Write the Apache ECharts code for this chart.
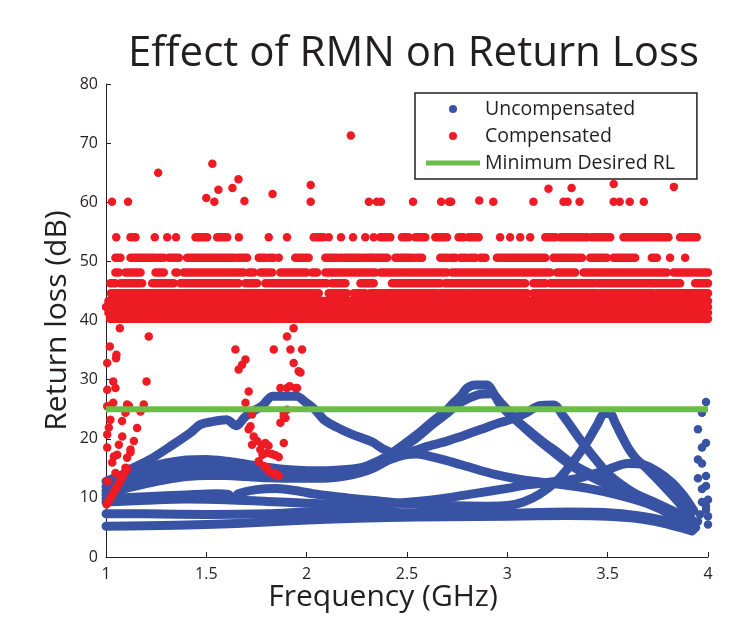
<!DOCTYPE html>
<html>
<head>
<meta charset="utf-8">
<title>Effect of RMN on Return Loss</title>
<script src="https://cdn.jsdelivr.net/npm/echarts@6/dist/echarts.min.js"></script>
<style>
  html, body { margin: 0; padding: 0; background: #fff; }
  #chart { width: 738px; height: 617px; }
</style>
</head>
<body>
<div id="chart"></div>
<script>
"use strict";

const BLUE = '#3953a4';
const RED = '#ed1c24';
const GREEN = '#6abd45';
const INK = '#231f20';
const FONT = "'Open Sans', 'Noto Sans', sans-serif";

// ---- Uncompensated (blue) traces [GHz, dB]
const uncompA = [[1.0,11.9],[1.06,13.3],[1.12,14.8],[1.22,16.5],[1.32,18.7],[1.42,21.0],[1.47,22.4],[1.53,22.9],[1.6,23.2],[1.65,22.2],[1.69,23.6],[1.74,24.8],[1.78,25.6],[1.83,27.2],[1.95,27.2],[1.99,26.3],[2.04,25.0],[2.09,23.1],[2.17,21.6],[2.23,20.7],[2.33,19.4],[2.38,18.3],[2.45,17.5],[2.52,17.8],[2.6,18.7],[2.7,19.6],[2.77,20.4],[2.87,21.6],[2.96,22.7],[3.03,23.4],[3.1,24.5],[3.16,25.6],[3.23,25.7],[3.28,23.8],[3.36,20.0],[3.44,16.5],[3.51,13.8],[3.6,11.5],[3.7,9.5],[3.8,7.4],[3.9,5.3]];
const uncompB = [[1.0,11.2],[1.1,12.6],[1.2,13.7],[1.3,14.5],[1.4,15.0],[1.5,15.2],[1.6,15.1],[1.7,14.8],[1.8,14.4],[1.9,14.1],[2.0,13.9],[2.1,14.0],[2.2,14.4],[2.3,15.4],[2.4,17.0],[2.47,18.7],[2.55,20.7],[2.63,23.0],[2.69,24.6],[2.73,26.0],[2.77,27.3],[2.8,28.6],[2.84,29.1],[2.9,29.1],[2.93,27.8],[2.96,26.0],[3.02,23.8],[3.1,21.6],[3.18,19.4],[3.25,17.7],[3.33,15.6],[3.45,13.5],[3.6,11.2],[3.75,9.0],[3.9,6.6]];
const uncompC = [[1.0,10.6],[1.1,11.6],[1.2,12.4],[1.3,13.1],[1.4,13.6],[1.5,13.8],[1.6,13.8],[1.7,13.6],[1.8,13.4],[2.0,13.3],[2.15,13.5],[2.3,14.6],[2.4,16.3],[2.47,18.2],[2.55,20.2],[2.63,22.5],[2.7,24.3],[2.76,26.0],[2.85,27.4],[2.92,27.6],[2.97,26.0],[3.05,23.0],[3.13,20.5],[3.22,18.0],[3.33,15.2],[3.5,12.2],[3.7,9.2],[3.88,6.5]];
const uncompD = [[1.0,12.8],[1.1,14.1],[1.2,15.1],[1.3,15.9],[1.4,16.4],[1.5,16.5],[1.6,16.2],[1.7,15.7],[1.8,15.2],[1.9,14.8],[2.0,14.6],[2.1,14.6],[2.2,14.8],[2.3,15.3],[2.4,16.3],[2.48,17.2],[2.55,17.4],[2.63,16.9],[2.72,16.1],[2.8,15.3],[2.88,14.5],[2.96,13.8],[3.05,13.2],[3.13,12.8],[3.26,12.3],[3.4,11.6],[3.55,10.5],[3.7,9.0],[3.82,7.2],[3.92,5.6]];
const uncompE = [[1.0,9.3],[1.2,9.6],[1.4,9.8],[1.6,9.7],[1.8,9.4],[2.0,9.1],[2.2,8.9],[2.4,9.0],[2.55,9.4],[2.7,10.0],[2.85,10.8],[3.0,11.6],[3.1,12.2],[3.2,12.6],[3.35,13.3],[3.5,14.8],[3.6,15.8],[3.68,15.6],[3.75,14.4],[3.82,12.6],[3.88,10.3],[3.93,7.8]];
const uncompF = [[1.0,9.9],[1.2,10.2],[1.4,10.5],[1.55,10.7],[1.61,10.6],[1.635,9.8],[1.66,10.7],[1.75,11.4],[1.85,11.6],[1.95,11.2],[2.05,10.6],[2.2,10.0],[2.35,9.5],[2.5,9.0],[2.7,8.7],[2.9,8.6],[3.0,8.7],[3.08,9.3],[3.16,10.6],[3.25,13.0],[3.33,16.2],[3.4,19.6],[3.45,22.5],[3.48,24.2],[3.51,24.3],[3.54,22.5],[3.57,20.5],[3.6,18.6],[3.64,16.7],[3.7,14.8],[3.78,12.0],[3.86,9.0],[3.92,6.3]];
const uncompG = [[1.0,7.3],[1.2,7.3],[1.5,7.2],[1.8,7.3],[2.0,7.6],[2.2,7.8],[2.5,7.5],[2.8,7.3],[3.0,7.4],[3.3,7.6],[3.5,7.5],[3.65,7.0],[3.78,6.2],[3.88,5.2],[3.93,4.7]];
const uncompH = [[1.0,5.2],[1.2,5.3],[1.5,5.5],[1.8,5.9],[2.1,6.4],[2.4,6.7],[2.7,6.8],[3.0,6.9],[3.3,7.0],[3.5,6.9],[3.65,6.5],[3.78,5.7],[3.87,4.9],[3.92,4.4]];
// loose points where the traces jump near 4 GHz
const uncompEdge = [[3.99,26.2],[3.97,24.4],[3.95,21.6],[3.99,19.3],[3.97,18.5],[3.95,16.5],[3.97,15.8],[3.99,13.7],[3.95,13.3],[3.99,12.0],[3.97,11.5],[4.0,9.7],[3.97,9.3],[3.99,8.6],[3.99,8.0],[4.0,6.9],[4.0,5.5],[3.96,7.2],[3.95,6.0],[3.94,5.0]];

// ---- Compensated (red): quantised levels, runs of dots [from GHz, to GHz]
const rowLevels = [54.1, 50.6, 48.1, 46.3, 44.6, 43.3, 42.3, 41.3, 40.3];
const run54 = [[1.051,1.051],[1.122,1.147],[1.243,1.243],[1.305,1.305],[1.349,1.349],[1.446,1.504],[1.554,1.604],[1.662,1.662],[1.811,1.811],[1.902,1.902],[2.035,2.085],[2.11,2.11],[2.171,2.171],[2.231,2.231],[2.292,2.292],[2.334,2.334],[2.367,2.417],[2.475,2.508],[2.541,2.591],[2.641,2.699],[2.757,2.782],[2.807,2.857],[2.964,2.964],[3.014,3.014],[3.064,3.064],[3.114,3.114],[3.189,3.239],[3.264,3.40],[3.42,3.513],[3.579,3.803],[3.861,3.944]];
const run50 = [[1.047,1.072],[1.122,1.247],[1.263,1.288],[1.313,1.363],[1.404,1.636],[1.653,1.703],[1.761,1.794],[1.811,1.836],[1.861,1.861],[1.943,2.010],[2.093,2.151],[2.168,2.268],[2.284,2.318],[2.326,2.401],[2.442,2.475],[2.483,2.533],[2.550,2.575],[2.666,2.699],[2.716,2.741],[2.766,2.799],[2.816,2.841],[2.866,2.891],[2.948,3.189],[3.230,3.372],[3.413,3.496],[3.529,3.637],[3.720,3.745],[3.811,3.811],[3.886,3.886]];
const run48 = [[1.047,1.064],[1.097,1.172],[1.247,1.288],[1.346,1.355],[1.387,1.686],[1.711,1.736],[1.769,1.828],[1.869,2.0],[2.027,2.052],[2.093,2.342],[2.367,2.467],[2.483,2.699],[2.724,3.214],[3.247,3.338],[3.380,3.795],[3.828,4.0]];
const run46 = [[1.022,1.047],[1.072,1.18],[1.23,1.338],[1.371,1.661],[1.695,1.753],[1.794,2.10],[2.126,2.193],[2.268,2.334],[2.425,2.666],[2.690,3.089],[3.130,3.189],[3.214,3.438],[3.454,3.728],[3.737,3.861],[3.936,4.0]];
const run44 = [[1.025,2.06],[2.11,2.20],[2.234,2.292],[2.317,2.649],[2.666,2.79],[2.807,3.098],[3.130,3.446],[3.462,3.596],[3.604,3.728],[3.745,4.0]];
const run43 = [[1.012,4.0]];
const run42 = [[1.0,4.0]];
const run41 = [[1.012,4.0]];
const run40 = [[1.02,1.55],[1.565,1.95],[1.965,4.0]];
const rowRuns = [run54, run50, run48, run46, run44, run43, run42, run41, run40];

// single red dots: outliers above and the three drops below the band
const compDots = [
  [1.03,60.1],[1.11,60.1],[1.26,65.0],[1.50,60.7],[1.53,66.5],[1.54,60.1],[1.56,62.1],[1.63,62.4],[1.66,63.9],[1.69,60.2],[1.83,61.4],[2.02,62.9],[2.02,60.1],[2.22,71.3],[2.31,60.1],[2.35,60.1],[2.37,60.1],[2.53,60.1],[2.67,60.1],[2.71,60.1],[2.72,60.1],[2.86,60.3],[2.93,60.1],[3.13,60.1],[3.205,62.3],[3.28,60.1],[3.30,60.1],[3.32,62.4],[3.36,60.1],[3.53,63.1],[3.53,60.1],[3.56,60.1],[3.61,60.1],[3.68,60.1],[3.83,62.6],
  [1.006,32.8],[1.006,28.3],[1.006,25.5],[1.006,20.7],[1.006,18.5],[1.006,12.8],[1.019,35.6],[1.036,29.7],[1.047,28.6],[1.036,26.1],[1.022,23.2],[1.014,21.9],[1.039,17.0],[1.031,16.0],[1.047,14.2],[1.052,34.2],[1.05,33.6],[1.069,38.7],[1.064,19.0],[1.056,17.3],[1.081,20.4],[1.08,23.0],[1.097,24.4],[1.114,25.6],[1.122,17.7],[1.139,19.6],[1.155,21.8],[1.172,24.6],[1.188,25.8],[1.202,29.7],[1.213,37.3],[1.03,25.8],[1.105,25.8],[1.105,16.8],[1.097,15.1],[1.08,13.7],[1.122,18.2],
  [1.645,35.1],[1.661,31.7],[1.678,32.5],[1.695,33.4],[1.711,28.0],[1.695,26.1],[1.728,24.1],[1.711,21.6],[1.728,19.0],[1.72,22.1],[1.736,20.4],[1.753,19.6],[1.778,19.0],[1.794,19.3],[1.81,18.8],[1.803,17.6],[1.828,17.4],[1.844,17.2],[1.861,16.9],[1.761,16.2],[1.786,15.4],[1.803,15.1],[1.811,14.5],[1.836,14.0],[1.844,14.2],[1.861,13.7],[1.769,18.2],[1.78,17.3],
  [1.836,35.1],[1.902,37.3],[1.935,38.7],[1.919,35.1],[1.935,32.8],[1.960,31.4],[1.977,35.1],[1.969,31.2],[1.869,28.6],[1.902,28.6],[1.952,28.6],[1.915,28.9],[1.944,28.6],[1.886,23.8],[1.869,22.7],[1.902,24.9],[1.894,23.5],[1.886,24.3],[1.886,19.3]
];
// dense rising chain of red dots at the band edge
const compChain = [[1.003,8.9],[1.05,11.6],[1.105,15.0]];

const minRL = [[1, 25], [4, 25]];

const runData = [];
rowRuns.forEach(function (runs, i) {
  runs.forEach(function (r) { runData.push([r[0], r[1], rowLevels[i]]); });
});

const DOT = 8.5;
const TRACE = 9;

function blueTrace(data) {
  return {
    name: 'Uncompensated', type: 'line', data: data, smooth: 0.3,
    symbol: 'none', clip: false, z: 2,
    itemStyle: { color: BLUE },
    lineStyle: { color: BLUE, width: TRACE, cap: 'round', join: 'round', opacity: 1 },
    emphasis: { disabled: true }
  };
}

const axisCommon = {
  axisLine: { show: true, lineStyle: { color: INK, width: 1 } },
  axisTick: { show: true, inside: true, length: 5, lineStyle: { color: INK } },
  splitLine: { show: false },
  nameLocation: 'middle',
  nameMoveOverlap: false
};

const myChart = echarts.init(document.getElementById('chart'), null, { renderer: 'canvas' });

myChart.setOption({
  animation: false,
  backgroundColor: '#fff',
  textStyle: { fontFamily: FONT },
  title: {
    text: 'Effect of RMN on Return Loss',
    left: 123, top: 28,
    textStyle: { fontSize: 42, fontWeight: 'normal', color: INK, fontFamily: FONT }
  },
  legend: {
    orient: 'vertical', left: 415, top: 93,
    itemWidth: 54, itemHeight: 8, itemGap: 7,
    padding: [6, 22, 6, 11],
    borderColor: INK, borderWidth: 1.5, backgroundColor: '#fff',
    textStyle: { fontSize: 19.5, lineHeight: 20, color: INK, fontFamily: FONT },
    selectedMode: false,
    data: [
      { name: 'Uncompensated', icon: 'circle', itemStyle: { color: BLUE } },
      { name: 'Compensated', icon: 'circle', itemStyle: { color: RED } },
      { name: 'Minimum Desired RL', icon: 'path://M0,0H54V5H0Z', itemStyle: { color: GREEN } }
    ]
  },
  grid: { left: 106, right: 30, top: 84, bottom: 60, containLabel: false, outerBoundsMode: 'none' },
  xAxis: Object.assign({}, axisCommon, {
    type: 'value', min: 1, max: 4, interval: 0.5,
    name: 'Frequency (GHz)', nameGap: 25,
    nameTextStyle: { fontSize: 30, color: INK, fontFamily: FONT, padding: [0, 48, 0, 0] },
    axisLabel: { fontSize: 16, color: INK, margin: 9, fontFamily: FONT }
  }),
  yAxis: Object.assign({}, axisCommon, {
    type: 'value', min: 0, max: 80, interval: 10,
    name: 'Return loss (dB)', nameGap: 34,
    nameTextStyle: { fontSize: 30, color: INK, fontFamily: FONT },
    axisLabel: { fontSize: 16, color: INK, margin: 8, fontFamily: FONT }
  }),
  series: [
    blueTrace(uncompH), blueTrace(uncompG), blueTrace(uncompE), blueTrace(uncompF),
    blueTrace(uncompC), blueTrace(uncompB), blueTrace(uncompD), blueTrace(uncompA),
    {
      name: 'Uncompensated', type: 'scatter', data: uncompEdge, symbolSize: DOT,
      clip: false, z: 2, itemStyle: { color: BLUE, opacity: 1 }, emphasis: { disabled: true }
    },
    {
      name: 'Compensated', type: 'custom', data: runData, encode: { x: [0, 1], y: 2 },
      clip: false, z: 3, itemStyle: { color: RED },
      renderItem: function (params, api) {
        const y = api.value(2);
        const a = api.coord([api.value(0), y]);
        const b = api.coord([api.value(1), y]);
        const r = DOT / 2;
        return {
          type: 'rect',
          shape: { x: a[0] - r, y: a[1] - r, width: b[0] - a[0] + 2 * r, height: 2 * r, r: r },
          style: { fill: RED }
        };
      }
    },
    {
      name: 'Compensated', type: 'line', data: compChain, symbol: 'none', clip: false, z: 3,
      itemStyle: { color: RED },
      lineStyle: { color: RED, width: DOT, cap: 'round', join: 'round', opacity: 1 },
      emphasis: { disabled: true }
    },
    {
      name: 'Compensated', type: 'scatter', data: compDots, symbolSize: DOT,
      clip: false, z: 3, itemStyle: { color: RED, opacity: 1 }, emphasis: { disabled: true }
    },
    {
      name: 'Minimum Desired RL', type: 'line', data: minRL, symbol: 'none', z: 4,
      itemStyle: { color: GREEN },
      lineStyle: { color: GREEN, width: 6, opacity: 1 },
      emphasis: { disabled: true }
    }
  ]
});
</script>
</body>
</html>
